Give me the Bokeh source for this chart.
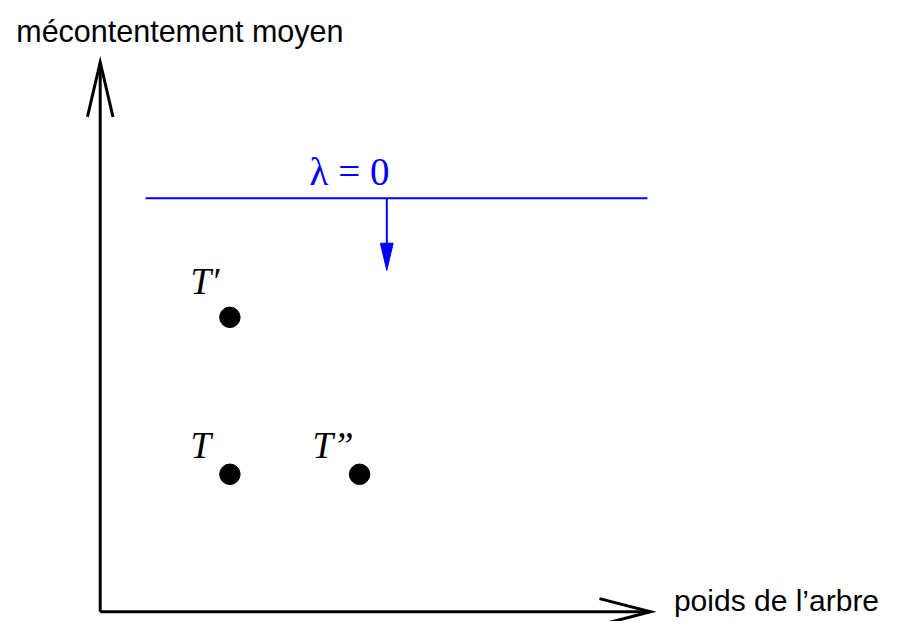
from bokeh.plotting import figure
from bokeh.models import Range1d, ColumnDataSource
from bokeh.core.properties import value
from bokeh.embed import file_html
from bokeh.resources import INLINE

# ---- data (arbitrary schematic units) ----
trees = ["T\u2032", "T", "T\u201d"]
poids = [1.0, 1.0, 2.0]              # tree weight
mecontentement = [2.0, 1.0, 1.0]      # mean dissatisfaction
lambda_label = "\u03bb = 0"
lambda_level = 2.758                  # level line for lambda = 0
lambda_span = [0.35, 4.22]            # extent of the level line (x)
lambda_arrow_x = 2.21
y_title = "m\u00e9contentement moyen"
x_title = "poids de l\u2019arbre"

# ---- layout (reference pixel scale of the schematic) ----
PX_X = 132.0   # reference px per unit in x
PX_Y = 161.0   # reference px per unit in y
ORIGIN = (0.0, 0.124)   # where the two axes cross
X_END = 4.244
Y_END = 3.625

W, H = 893, 621
p = figure(width=W, height=H, output_backend="svg", toolbar_location=None,
           x_range=Range1d(-101.5 / PX_X, (909 - 101.5) / PX_X),
           y_range=Range1d((647 - 637) / PX_Y, 647 / PX_Y),
           min_border=0, min_border_left=0, min_border_right=0,
           min_border_top=0, min_border_bottom=0)
p.xaxis.visible = False
p.yaxis.visible = False
p.grid.visible = False
p.outline_line_color = None
p.background_fill_color = "white"
p.border_fill_color = "white"

dx = 1.0 / PX_X
dy = 1.0 / PX_Y
ox, oy = ORIGIN

# axes lines
p.multi_line(xs=[[ox, ox], [ox, X_END]], ys=[[oy, Y_END], [oy, oy]],
             line_color="black", line_width=3, line_cap="butt")
# open arrow heads (long and narrow)
p.multi_line(xs=[[ox - 13 * dx, ox, ox + 13 * dx],
                 [X_END - 52 * dx, X_END, X_END - 52 * dx]],
             ys=[[Y_END - 56 * dy, Y_END, Y_END - 56 * dy],
                 [oy + 13.5 * dy, oy, oy - 13.5 * dy]],
             line_color="black", line_width=3, line_join="miter", line_cap="butt")

# lambda level line and its downward arrow
blue = "#0000ff"
p.line(x=lambda_span, y=[lambda_level, lambda_level], line_color=blue, line_width=2)
head_len = 28 * dy
shaft_end = lambda_level - 46 * dy
p.line(x=[lambda_arrow_x, lambda_arrow_x], y=[lambda_level, shaft_end],
       line_color=blue, line_width=2)
p.patch(x=[lambda_arrow_x - 6.5 * dx, lambda_arrow_x + 6.5 * dx, lambda_arrow_x],
        y=[shaft_end, shaft_end, shaft_end - head_len],
        fill_color=blue, line_color=blue, line_width=1)
p.text(x=[lambda_arrow_x - 38 * dx], y=[lambda_level + 27.5 * dy], text=[lambda_label],
       text_font=value("Liberation Serif"), text_font_size="39px",
       text_color=blue, text_align="center", text_baseline="alphabetic")

# points
src = ColumnDataSource(dict(x=poids, y=mecontentement, name=trees))
p.scatter(x="x", y="y", source=src, size=20.5, fill_color="black", line_color="black")

# tree labels
lab_dx_px = [-40, -40, -48]
lab_dy_px = [37, 30, 30]
p.text(x=[xv + a * dx for xv, a in zip(poids, lab_dx_px)],
       y=[yv + b * dy for yv, b in zip(mecontentement, lab_dy_px)],
       text=trees, text_font=value("Liberation Serif"), text_font_style="italic",
       text_font_size="37px", text_color="black",
       text_align="left", text_baseline="alphabetic")

# axis titles
p.text(x=[ox - 85.5 * dx], y=[oy + (627 - 31.7) * dy], text=[y_title],
       text_font=value("Liberation Sans"), text_font_size="30.5px",
       text_color="black", text_align="left", text_baseline="alphabetic")
p.text(x=[ox + 584 * dx], y=[oy + 12 * dy], text=[x_title],
       text_font=value("Liberation Sans"), text_font_size="30px",
       text_color="black", text_align="left", text_baseline="middle")

open("out.html", "w").write(file_html(p, INLINE))
